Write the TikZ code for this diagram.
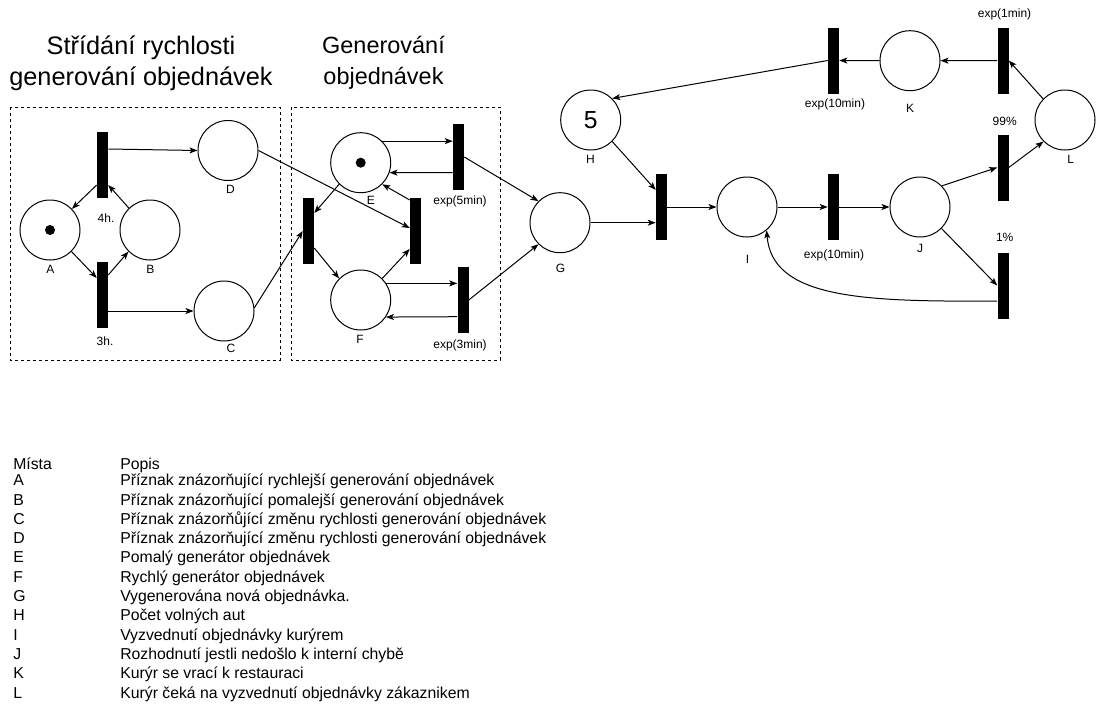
\documentclass[tikz,border=0pt]{standalone}
\usepackage{fontspec}
\setmainfont{Liberation Sans}
\usetikzlibrary{arrows.meta,calc}
\begin{document}
\begin{tikzpicture}[x=0.75pt,y=-0.75pt,
  place/.style={circle,draw,line width=0.75pt,minimum size=45pt,inner sep=0pt},
  trans/.style={rectangle,fill=black,draw=none,minimum width=8.25pt,minimum height=49.5pt,inner sep=0pt},
  tok/.style={circle,fill=black,minimum size=7.5pt,inner sep=0pt},
  lab/.style={font=\fontsize{9}{10}\selectfont,inner sep=0pt,anchor=base},
  arc/.style={draw,line width=0.75pt,-{Stealth[length=6pt,width=4.5pt,inset=1.5pt]}},
  grp/.style={draw,line width=0.75pt,dash pattern=on 2.25pt off 2.25pt},
  ttl/.style={align=center,inner sep=0pt,anchor=north},
  leg/.style={font=\fontsize{11.85}{14}\selectfont,inner sep=0pt,anchor=base west}]
\useasboundingbox (0,0) rectangle (1096,711);

% titles
\node[ttl,font=\fontsize{19}{23.25}\selectfont] (t1) at (141,35.5) {Střídání rychlosti\\generování objednávek};
\node[ttl,font=\fontsize{17.6}{23.25}\selectfont] (t2) at (383.5,36.4) {Generování\\objednávek};

% groups
\draw[grp] (10,107) rectangle (280,360);
\draw[grp] (291,107) rectangle (500,360);

% places
\node[place] (A) at (50,230) {};
\node[place] (B) at (150,230) {};
\node[place] (C) at (224,311) {};
\node[place] (D) at (228,150.5) {};
\node[place] (E) at (360.7,162.7) {};
\node[place] (F) at (360.7,300) {};
\node[place] (G) at (560,222.7) {};
\node[place,font=\fontsize{18.5}{18.5}\selectfont] (H) at (590.7,120) {5};
\node[place] (I) at (747,207) {};
\node[place] (J) at (920,207) {};
\node[place] (K) at (910,60.7) {};
\node[place] (L) at (1065,120) {};
\node[tok] (Atok) at (A.center) {};
\node[tok] (Etok) at (E.center) {};

% place labels
\node[lab] (Al) at (50.3,273.3) {A};
\node[lab] (Bl) at (150.3,273.3) {B};
\node[lab] (Cl) at (231,352.7) {C};
\node[lab] (Dl) at (230.5,193.3) {D};
\node[lab] (El) at (370.8,204.3) {E};
\node[lab] (Fl) at (360,343.3) {F};
\node[lab] (Gl) at (560.5,272.7) {G};
\node[lab] (Hl) at (590.5,163.3) {H};
\node[lab] (Il) at (747.5,263.3) {I};
\node[lab] (Jl) at (920,252.7) {J};
\node[lab] (Kl) at (910,112.7) {K};
\node[lab] (Ll) at (1070.7,163.3) {L};

% transitions
\node[trans] (T1) at (102.5,165) {};
\node[trans] (T2) at (102.5,295) {};
\node[trans] (T3) at (308.5,231) {};
\node[trans] (T4) at (415.5,231) {};
\node[trans] (T5) at (458.5,157) {};
\node[trans] (T6) at (463,300) {};
\node[trans] (T7) at (661.5,207) {};
\node[trans] (T8) at (833.5,207) {};
\node[trans] (T9) at (833.5,60.5) {};
\node[trans] (T10) at (1003,60.5) {};
\node[trans] (T11) at (1003,167.5) {};
\node[trans] (T12) at (1003,285.5) {};

% transition labels
\node[lab] (T1l) at (106,222.7) {4h.};
\node[lab] (T2l) at (105,345) {3h.};
\node[lab] (T5l) at (460,204.3) {exp(5min)};
\node[lab] (T6l) at (460,348.3) {exp(3min)};
\node[lab] (T8l) at (834,258.3) {exp(10min)};
\node[lab] (T9l) at (835,107) {exp(10min)};
\node[lab] (T10l) at (1004.5,17.3) {exp(1min)};
\node[lab] (T11l) at (1004.7,125) {99\%};
\node[lab] (T12l) at (1004.7,241.7) {1\%};

% arcs, left group
\draw[arc] ($(T1.west)+(0,20)$) -- (A.44);
\draw[arc] (A.-45) -- ($(T2.west)+(0,-17)$);
\draw[arc] ($(T2.east)+(0,-20)$) -- (B.225);
\draw[arc] (B.134) -- ($(T1.east)+(0,20)$);
\draw[arc] ($(T1.east)+(0,-16)$) -- (D.west);
\draw[arc] ($(T2.east)+(0,16)$) -- (C.west);
\draw[arc] (D.east) -- ($(T4.west)+(0,-3)$);
\draw[arc] (C.6) -- (T3.west);

% arcs, middle group
\draw[arc] (E.45) -- (E.45 -| T5.west);
\draw[arc] ($(T5.west)+(0,15.7)$) -- (E.-19.5);
\draw[arc] (E.225) -- ($(T3.east)+(0,-18)$);
\draw[arc] ($(T3.east)+(0,17)$) -- (F.135);
\draw[arc] (F.45) -- ($(T4.west)+(0,18)$);
\draw[arc] ($(T4.west)+(0,-31)$) -- (E.-45);
\draw[arc] (F.33) -- (F.33 -| T6.west);
\draw[arc] ($(T6.west)+(0,16.7)$) -- (F.-34);
\draw[arc] (T5.east) -- (G.135);
\draw[arc] (T6.east) -- (G.225);

% arcs, right part
\draw[arc] (G.east) -- (G.east -| T7.west);
\draw[arc] (H.-45) -- ($(T7.west)+(0,-17)$);
\draw[arc] (T7.east) -- (I.west);
\draw[arc] (I.east) -- (T8.west);
\draw[arc] (T8.east) -- (J.west);
\draw[arc] (J.44) -- (T11.west);
\draw[arc] (T11.east) -- (L.225);
\draw[arc] (L.136) -- (T10.east);
\draw[arc] (T10.west) -- (K.east);
\draw[arc] (K.west) -- (T9.east);
\draw[arc] (T9.west) -- (H.45);
\draw[arc] (J.-45) -- (T12.west);
\draw[arc] ($(T12.west)+(0,15.5)$) .. controls (860,302) and (772,298) .. (I.-50);

% legend
\node[leg] (lhk) at (13,469.3) {Místa};
\node[leg] (lhd) at (120,469.3) {Popis};
\foreach \k/\t [count=\i from 0] in {
  A/{Příznak znázorňující rychlejší generování objednávek},
  B/{Příznak znázorňující pomalejší generování objednávek},
  C/{Příznak znázorňůjící změnu rychlosti generování objednávek},
  D/{Příznak znázorňující změnu rychlosti generování objednávek},
  E/{Pomalý generátor objednávek},
  F/{Rychlý generátor objednávek},
  G/{Vygenerována nová objednávka.},
  H/{Počet volných aut},
  I/{Vyzvednutí objednávky kurýrem},
  J/{Rozhodnutí jestli nedošlo k interní chybě},
  K/{Kurýr se vrací k restauraci},
  L/{Kurýr čeká na vyzvednutí objednávky zákaznikem}}{
  \node[leg] (lk\k) at (13,485.7+19.3*\i) {\k};
  \node[leg] (ld\k) at (120,485.7+19.3*\i) {\t};
}
\end{tikzpicture}
\end{document}
